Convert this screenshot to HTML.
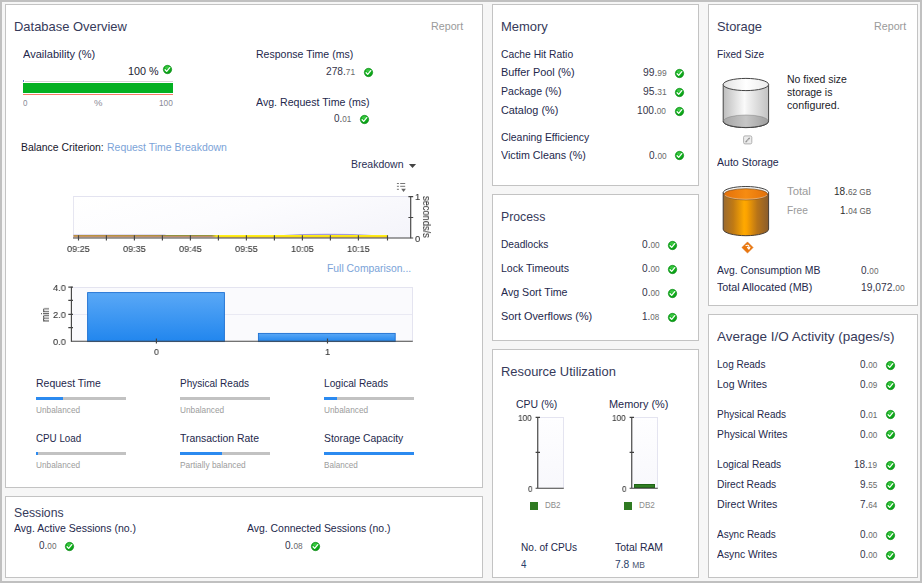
<!DOCTYPE html>
<html lang="en">
<head>
<meta charset="utf-8">
<title>Database Overview</title>
<style>
html,body{margin:0;padding:0;}
body{width:922px;height:583px;overflow:hidden;background:#f6f6f6;font-family:"Liberation Sans",sans-serif;}
#root{position:absolute;left:0;top:0;width:922px;height:583px;overflow:hidden;background:#f6f6f6;}
#frame{position:absolute;left:0;top:0;width:922px;height:583px;box-sizing:border-box;border:2px solid #c0c0c0;border-top-width:2px;pointer-events:none;}
.panel{position:absolute;box-sizing:border-box;background:#fff;border:1px solid #c3c3c3;}
.t{position:absolute;white-space:pre;line-height:1;transform-origin:0 0;}
.ck{position:absolute;}
.g{will-change:transform;-webkit-text-stroke:0.12px #3a3a3a;}
</style>
</head>
<body>
<div id="root">
<svg width="0" height="0" style="position:absolute"><defs><radialGradient id="gck" cx="0.45" cy="0.35" r="0.75"><stop offset="0" stop-color="#1fc22a"/><stop offset="0.6" stop-color="#0ca818"/><stop offset="1" stop-color="#078c12"/></radialGradient></defs></svg>

<div class="panel" id="dbo" style="left:5px;top:4px;width:478px;height:484px"></div>
<div class="panel" id="ses" style="left:5px;top:496px;width:478px;height:82px"></div>
<div class="panel" id="mem" style="left:492px;top:4px;width:207px;height:182px"></div>
<div class="panel" id="prc" style="left:492px;top:194px;width:207px;height:147px"></div>
<div class="panel" id="res" style="left:492px;top:349px;width:207px;height:229px"></div>
<div class="panel" id="sto" style="left:708px;top:4px;width:210px;height:302px"></div>
<div class="panel" id="io" style="left:708px;top:314px;width:210px;height:264px"></div>
<svg class="ck" style="left:162.1px;top:64.2px" width="11" height="11" viewBox="0 0 11 11"><circle cx="5.5" cy="5.5" r="4.2" fill="url(#gck)" stroke="#0c8c16" stroke-width="0.6"/><ellipse cx="5.2" cy="3.5" rx="2.4" ry="1.2" fill="#7fe07f" opacity="0.35"/><path d="M3.1 5.7 L4.7 7.4 L7.8 3.6" fill="none" stroke="#fff" stroke-width="1.25" stroke-linecap="round" stroke-linejoin="round"/></svg>
<div style="position:absolute;left:25px;top:81px;width:148px;height:1px;background:#d6d6d8;"></div>
<div style="position:absolute;left:23px;top:80px;width:1px;height:2px;background:#5b86cc;"></div>
<div style="position:absolute;left:23px;top:83px;width:150px;height:10px;background:#04b022;"></div>
<div style="position:absolute;left:23px;top:94px;width:150px;height:1px;background:#f67a68;"></div>
<svg class="ck" style="left:363.0px;top:67.1px" width="11" height="11" viewBox="0 0 11 11"><circle cx="5.5" cy="5.5" r="4.2" fill="url(#gck)" stroke="#0c8c16" stroke-width="0.6"/><ellipse cx="5.2" cy="3.5" rx="2.4" ry="1.2" fill="#7fe07f" opacity="0.35"/><path d="M3.1 5.7 L4.7 7.4 L7.8 3.6" fill="none" stroke="#fff" stroke-width="1.25" stroke-linecap="round" stroke-linejoin="round"/></svg>
<svg class="ck" style="left:359.2px;top:113.8px" width="11" height="11" viewBox="0 0 11 11"><circle cx="5.5" cy="5.5" r="4.2" fill="url(#gck)" stroke="#0c8c16" stroke-width="0.6"/><ellipse cx="5.2" cy="3.5" rx="2.4" ry="1.2" fill="#7fe07f" opacity="0.35"/><path d="M3.1 5.7 L4.7 7.4 L7.8 3.6" fill="none" stroke="#fff" stroke-width="1.25" stroke-linecap="round" stroke-linejoin="round"/></svg>
<svg style="position:absolute;left:408px;top:163px" width="9" height="6" viewBox="0 0 9 6"><path d="M0.9 0.9 H8.1 L4.5 5 Z" fill="#444"/></svg>
<svg style="position:absolute;left:396px;top:182px" width="11" height="11" viewBox="0 0 11 11"><g fill="#777"><rect x="0.9" y="1" width="2" height="1"/><rect x="4.2" y="1" width="5" height="1"/><rect x="0.9" y="3.8" width="2" height="1"/><rect x="4.2" y="3.8" width="5" height="1"/><rect x="0.9" y="6.8" width="2" height="1"/><path d="M5.2 6.8 H9.9 L7.55 9.9 Z" fill="#666"/></g></svg>
<div style="position:absolute;left:73px;top:196px;width:337px;height:42px;background:linear-gradient(165deg,#ffffff 0%,#fcfcfe 45%,#f4f4fa 100%);border-top:1px solid #e3e3f0;border-left:1px solid #e6e6f1;box-sizing:border-box"></div>
<svg style="position:absolute;left:60px;top:190px" width="380" height="56" viewBox="60 190 380 56">
<defs>
<linearGradient id="gl1" x1="0" x2="1" y1="0" y2="0"><stop offset="0" stop-color="#b89030"/><stop offset="0.27" stop-color="#a88c2c"/><stop offset="0.30" stop-color="#85862a"/><stop offset="0.44" stop-color="#8c8a26"/><stop offset="0.458" stop-color="#fff000"/><stop offset="1" stop-color="#ffee00"/></linearGradient>
<linearGradient id="gl2" x1="0" x2="1" y1="0" y2="0"><stop offset="0" stop-color="#c48a58"/><stop offset="0.44" stop-color="#bc8460"/><stop offset="0.458" stop-color="#ffe600"/><stop offset="1" stop-color="#ffe400"/></linearGradient>
</defs>
<path d="M279 235.2 Q327 232.4 377 235.2 Z" fill="#6a5acd" opacity="0.6"/>
<rect x="73.5" y="234.8" width="92" height="0.6" fill="#7460cc"/>
<rect x="73.5" y="235.1" width="314.2" height="1.1" fill="url(#gl1)"/>
<rect x="73.5" y="236.1" width="314.2" height="1.2" fill="url(#gl2)"/>
<rect x="217.4" y="236.9" width="170.3" height="0.5" fill="#e09a2a"/>
<g stroke="#444" stroke-width="1.15" fill="none">
<path d="M73 238.0 H413.2"/>
<path d="M410.7 196.2 V238.3"/>
<path d="M408.4 196.6 H413.2 M408.4 217.5 H413.2"/>
<path d="M78.5 235.3 V240.6 M106.4 235.3 V240.6 M134.4 235.3 V240.6 M162.4 235.3 V240.6 M190.4 235.3 V240.6 M218.4 235.3 V240.6 M246.4 235.3 V240.6 M274.4 235.3 V240.6 M302.4 235.3 V240.6 M330.4 235.3 V240.6 M358.4 235.3 V240.6 M387.5 235.3 V240.6"/>
</g></svg>
<div style="position:absolute;left:71px;top:287px;width:342px;height:54px;background:#fafafd;border-top:1px solid #e4e4f0;border-right:1px solid #e4e4f0;box-sizing:border-box"></div>
<div style="position:absolute;left:72px;top:314px;width:340px;height:1px;background:#e9e9f3;"></div>
<svg style="position:absolute;left:60px;top:280px" width="360" height="70" viewBox="60 280 360 70">
<defs><linearGradient id="gb" x1="0" x2="0" y1="0" y2="1"><stop offset="0" stop-color="#5aa8f6"/><stop offset="1" stop-color="#2186ee"/></linearGradient></defs>
<rect x="87.6" y="292.6" width="136.8" height="49" fill="url(#gb)" stroke="#1c6fd2" stroke-width="0.9"/>
<rect x="258.4" y="333.4" width="136.8" height="8.2" fill="url(#gb)" stroke="#1c6fd2" stroke-width="0.9"/>
<g stroke="#444" stroke-width="1.15" fill="none">
<path d="M71.4 286.8 V341.6"/>
<path d="M70.9 341.2 H412.8"/>
<path d="M68.3 287.1 H73 M68.3 300.3 H73 M68.3 314.3 H73 M68.3 327.6 H73"/>
<path d="M156.4 338.6 V343.4 M327.5 338.6 V343.4"/>
</g></svg>
<div style="position:absolute;left:36px;top:397px;width:90px;height:3px;background:#c2c2c2;"></div>
<div style="position:absolute;left:36px;top:397px;width:27px;height:3px;background:#2b8af0;"></div>
<div style="position:absolute;left:180px;top:397px;width:90px;height:3px;background:#c2c2c2;"></div>
<div style="position:absolute;left:324px;top:397px;width:90px;height:3px;background:#c2c2c2;"></div>
<div style="position:absolute;left:324px;top:397px;width:13px;height:3px;background:#2b8af0;"></div>
<div style="position:absolute;left:36px;top:452px;width:90px;height:3px;background:#c2c2c2;"></div>
<div style="position:absolute;left:36px;top:452px;width:1.7px;height:3px;background:#2b8af0;"></div>
<div style="position:absolute;left:180px;top:452px;width:90px;height:3px;background:#c2c2c2;"></div>
<div style="position:absolute;left:180px;top:452px;width:41.7px;height:3px;background:#2b8af0;"></div>
<div style="position:absolute;left:324px;top:452px;width:90px;height:3px;background:#c2c2c2;"></div>
<div style="position:absolute;left:324px;top:452px;width:90px;height:3px;background:#2b8af0;"></div>
<svg class="ck" style="left:64.1px;top:541.1px" width="11" height="11" viewBox="0 0 11 11"><circle cx="5.5" cy="5.5" r="4.2" fill="url(#gck)" stroke="#0c8c16" stroke-width="0.6"/><ellipse cx="5.2" cy="3.5" rx="2.4" ry="1.2" fill="#7fe07f" opacity="0.35"/><path d="M3.1 5.7 L4.7 7.4 L7.8 3.6" fill="none" stroke="#fff" stroke-width="1.25" stroke-linecap="round" stroke-linejoin="round"/></svg>
<svg class="ck" style="left:310.0px;top:541.1px" width="11" height="11" viewBox="0 0 11 11"><circle cx="5.5" cy="5.5" r="4.2" fill="url(#gck)" stroke="#0c8c16" stroke-width="0.6"/><ellipse cx="5.2" cy="3.5" rx="2.4" ry="1.2" fill="#7fe07f" opacity="0.35"/><path d="M3.1 5.7 L4.7 7.4 L7.8 3.6" fill="none" stroke="#fff" stroke-width="1.25" stroke-linecap="round" stroke-linejoin="round"/></svg>
<svg class="ck" style="left:674.1px;top:67.9px" width="11" height="11" viewBox="0 0 11 11"><circle cx="5.5" cy="5.5" r="4.2" fill="url(#gck)" stroke="#0c8c16" stroke-width="0.6"/><ellipse cx="5.2" cy="3.5" rx="2.4" ry="1.2" fill="#7fe07f" opacity="0.35"/><path d="M3.1 5.7 L4.7 7.4 L7.8 3.6" fill="none" stroke="#fff" stroke-width="1.25" stroke-linecap="round" stroke-linejoin="round"/></svg>
<svg class="ck" style="left:674.1px;top:86.7px" width="11" height="11" viewBox="0 0 11 11"><circle cx="5.5" cy="5.5" r="4.2" fill="url(#gck)" stroke="#0c8c16" stroke-width="0.6"/><ellipse cx="5.2" cy="3.5" rx="2.4" ry="1.2" fill="#7fe07f" opacity="0.35"/><path d="M3.1 5.7 L4.7 7.4 L7.8 3.6" fill="none" stroke="#fff" stroke-width="1.25" stroke-linecap="round" stroke-linejoin="round"/></svg>
<svg class="ck" style="left:674.1px;top:105.7px" width="11" height="11" viewBox="0 0 11 11"><circle cx="5.5" cy="5.5" r="4.2" fill="url(#gck)" stroke="#0c8c16" stroke-width="0.6"/><ellipse cx="5.2" cy="3.5" rx="2.4" ry="1.2" fill="#7fe07f" opacity="0.35"/><path d="M3.1 5.7 L4.7 7.4 L7.8 3.6" fill="none" stroke="#fff" stroke-width="1.25" stroke-linecap="round" stroke-linejoin="round"/></svg>
<svg class="ck" style="left:674.1px;top:150.3px" width="11" height="11" viewBox="0 0 11 11"><circle cx="5.5" cy="5.5" r="4.2" fill="url(#gck)" stroke="#0c8c16" stroke-width="0.6"/><ellipse cx="5.2" cy="3.5" rx="2.4" ry="1.2" fill="#7fe07f" opacity="0.35"/><path d="M3.1 5.7 L4.7 7.4 L7.8 3.6" fill="none" stroke="#fff" stroke-width="1.25" stroke-linecap="round" stroke-linejoin="round"/></svg>
<svg class="ck" style="left:666.9px;top:239.7px" width="11" height="11" viewBox="0 0 11 11"><circle cx="5.5" cy="5.5" r="4.2" fill="url(#gck)" stroke="#0c8c16" stroke-width="0.6"/><ellipse cx="5.2" cy="3.5" rx="2.4" ry="1.2" fill="#7fe07f" opacity="0.35"/><path d="M3.1 5.7 L4.7 7.4 L7.8 3.6" fill="none" stroke="#fff" stroke-width="1.25" stroke-linecap="round" stroke-linejoin="round"/></svg>
<svg class="ck" style="left:666.9px;top:263.9px" width="11" height="11" viewBox="0 0 11 11"><circle cx="5.5" cy="5.5" r="4.2" fill="url(#gck)" stroke="#0c8c16" stroke-width="0.6"/><ellipse cx="5.2" cy="3.5" rx="2.4" ry="1.2" fill="#7fe07f" opacity="0.35"/><path d="M3.1 5.7 L4.7 7.4 L7.8 3.6" fill="none" stroke="#fff" stroke-width="1.25" stroke-linecap="round" stroke-linejoin="round"/></svg>
<svg class="ck" style="left:666.9px;top:287.5px" width="11" height="11" viewBox="0 0 11 11"><circle cx="5.5" cy="5.5" r="4.2" fill="url(#gck)" stroke="#0c8c16" stroke-width="0.6"/><ellipse cx="5.2" cy="3.5" rx="2.4" ry="1.2" fill="#7fe07f" opacity="0.35"/><path d="M3.1 5.7 L4.7 7.4 L7.8 3.6" fill="none" stroke="#fff" stroke-width="1.25" stroke-linecap="round" stroke-linejoin="round"/></svg>
<svg class="ck" style="left:666.9px;top:311.7px" width="11" height="11" viewBox="0 0 11 11"><circle cx="5.5" cy="5.5" r="4.2" fill="url(#gck)" stroke="#0c8c16" stroke-width="0.6"/><ellipse cx="5.2" cy="3.5" rx="2.4" ry="1.2" fill="#7fe07f" opacity="0.35"/><path d="M3.1 5.7 L4.7 7.4 L7.8 3.6" fill="none" stroke="#fff" stroke-width="1.25" stroke-linecap="round" stroke-linejoin="round"/></svg>
<div style="position:absolute;left:537px;top:417px;width:27px;height:71px;background:linear-gradient(180deg,#fefeff,#f8f8fc);border-top:1px solid #e4e4f0;border-right:1px solid #e4e4f0;box-sizing:border-box"></div>
<svg style="position:absolute;left:533px;top:414px" width="36" height="78" viewBox="533 414 36 78"><g stroke="#404040" stroke-width="1.15" fill="none"><path d="M537.75 417 V488.6 M535.6 488.2 H563.8"/><path d="M535.6 417.4 H540 M535.6 452.4 H540"/></g></svg>
<div style="position:absolute;left:631px;top:417px;width:27px;height:71px;background:linear-gradient(180deg,#fefeff,#f8f8fc);border-top:1px solid #e4e4f0;border-right:1px solid #e4e4f0;box-sizing:border-box"></div>
<div style="position:absolute;left:634.4px;top:484.2px;width:21px;height:4px;background:#2f7d22;border:0.5px solid #1f6416;box-sizing:border-box"></div>
<svg style="position:absolute;left:627px;top:414px" width="36" height="78" viewBox="627 414 36 78"><g stroke="#404040" stroke-width="1.15" fill="none"><path d="M631.75 417 V488.6 M629.6 488.2 H657.8"/><path d="M629.6 417.4 H634 M629.6 452.4 H634"/></g></svg>
<div style="position:absolute;left:530.2px;top:501.9px;width:7.8px;height:7.9px;background:#2f7a22;"></div>
<div style="position:absolute;left:624.2px;top:501.9px;width:7.8px;height:7.9px;background:#2f7a22;"></div>
<svg style="position:absolute;left:720px;top:75px" width="52" height="56" viewBox="720 75 52 56">
<defs>
<linearGradient id="gcb" x1="0" x2="1"><stop offset="0" stop-color="#bdbdbd"/><stop offset="0.47" stop-color="#fafafa"/><stop offset="0.53" stop-color="#f2f2f2"/><stop offset="1" stop-color="#c2c2c2"/></linearGradient>
<linearGradient id="gct" x1="0" x2="1"><stop offset="0" stop-color="#e2e2e2"/><stop offset="0.5" stop-color="#ffffff"/><stop offset="1" stop-color="#ebebeb"/></linearGradient>
<linearGradient id="gcf" x1="0" x2="1"><stop offset="0" stop-color="#a6a6a6"/><stop offset="0.5" stop-color="#c6c6c6"/><stop offset="1" stop-color="#9e9e9e"/></linearGradient>
</defs>
<path d="M723.2 84.4 V121.2 A22.7 6.4 0 0 0 768.6 121.2 V84.4 Z" fill="url(#gcb)" stroke="#444" stroke-width="1"/>
<ellipse cx="745.9" cy="121.2" rx="22.3" ry="6.2" fill="url(#gcf)" stroke="#7e7e7e" stroke-width="0.5"/>
<path d="M723.2 121.2 A22.7 6.4 0 0 0 768.6 121.2" fill="none" stroke="#444" stroke-width="1"/>
<ellipse cx="745.9" cy="84.5" rx="22.7" ry="6.1" fill="url(#gct)" stroke="#444" stroke-width="1"/>
</svg>
<svg style="position:absolute;left:743px;top:135px" width="10" height="10" viewBox="0 0 10 10"><rect x="0.6" y="0.9" width="8.2" height="8" rx="1.4" fill="#ececec" stroke="#a9a9a9" stroke-width="0.9"/><path d="M3 6.8 L6.3 3.3" stroke="#8c8c8c" stroke-width="1.3" fill="none" stroke-linecap="round"/><path d="M3.6 6.2 L5.7 4" stroke="#f4f4f4" stroke-width="0.5" fill="none"/></svg>
<svg style="position:absolute;left:720px;top:183px" width="52" height="56" viewBox="720 183 52 56">
<defs>
<linearGradient id="gob" x1="0" x2="1"><stop offset="0" stop-color="#9a6a30"/><stop offset="0.22" stop-color="#c07a14"/><stop offset="0.46" stop-color="#ffa900"/><stop offset="0.52" stop-color="#fba200"/><stop offset="0.75" stop-color="#b87418"/><stop offset="1" stop-color="#8a5c2c"/></linearGradient>
<linearGradient id="got" x1="0" x2="1"><stop offset="0" stop-color="#e4700a"/><stop offset="0.5" stop-color="#f68c12"/><stop offset="1" stop-color="#e2700a"/></linearGradient>
</defs>
<path d="M723.2 192.6 V229.2 A22.7 6.5 0 0 0 768.6 229.2 V192.6 Z" fill="url(#gob)" stroke="#463c34" stroke-width="1"/>
<ellipse cx="745.9" cy="192.7" rx="22.7" ry="6.2" fill="#f6f6f6" stroke="#444" stroke-width="1"/>
<ellipse cx="745.9" cy="194.3" rx="21.7" ry="5.6" fill="url(#got)" stroke="#7a4e1c" stroke-width="0.7"/>
<path d="M724.6 195.2 A22 5.4 0 0 0 767.2 195.2" fill="none" stroke="#e8d8c0" stroke-width="0.7" opacity="0.8"/>
</svg>
<svg style="position:absolute;left:741px;top:241px" width="13" height="13" viewBox="0 0 13 13"><path d="M6.5 0.9 L12.1 6.5 L6.5 12.1 L0.9 6.5 Z" fill="#ea760c" stroke="#d86406" stroke-width="0.5"/><path d="M5 4.6 Q7.8 3.4 7.9 5.8 L7.9 7.2 M6.4 6.4 L7.9 8.2 L9 6.3" fill="none" stroke="#fff" stroke-width="1.05" stroke-linecap="round" stroke-linejoin="round"/></svg>
<svg class="ck" style="left:885.1px;top:359.6px" width="11" height="11" viewBox="0 0 11 11"><circle cx="5.5" cy="5.5" r="4.2" fill="url(#gck)" stroke="#0c8c16" stroke-width="0.6"/><ellipse cx="5.2" cy="3.5" rx="2.4" ry="1.2" fill="#7fe07f" opacity="0.35"/><path d="M3.1 5.7 L4.7 7.4 L7.8 3.6" fill="none" stroke="#fff" stroke-width="1.25" stroke-linecap="round" stroke-linejoin="round"/></svg>
<svg class="ck" style="left:885.1px;top:379.5px" width="11" height="11" viewBox="0 0 11 11"><circle cx="5.5" cy="5.5" r="4.2" fill="url(#gck)" stroke="#0c8c16" stroke-width="0.6"/><ellipse cx="5.2" cy="3.5" rx="2.4" ry="1.2" fill="#7fe07f" opacity="0.35"/><path d="M3.1 5.7 L4.7 7.4 L7.8 3.6" fill="none" stroke="#fff" stroke-width="1.25" stroke-linecap="round" stroke-linejoin="round"/></svg>
<svg class="ck" style="left:885.1px;top:409.4px" width="11" height="11" viewBox="0 0 11 11"><circle cx="5.5" cy="5.5" r="4.2" fill="url(#gck)" stroke="#0c8c16" stroke-width="0.6"/><ellipse cx="5.2" cy="3.5" rx="2.4" ry="1.2" fill="#7fe07f" opacity="0.35"/><path d="M3.1 5.7 L4.7 7.4 L7.8 3.6" fill="none" stroke="#fff" stroke-width="1.25" stroke-linecap="round" stroke-linejoin="round"/></svg>
<svg class="ck" style="left:885.1px;top:429.4px" width="11" height="11" viewBox="0 0 11 11"><circle cx="5.5" cy="5.5" r="4.2" fill="url(#gck)" stroke="#0c8c16" stroke-width="0.6"/><ellipse cx="5.2" cy="3.5" rx="2.4" ry="1.2" fill="#7fe07f" opacity="0.35"/><path d="M3.1 5.7 L4.7 7.4 L7.8 3.6" fill="none" stroke="#fff" stroke-width="1.25" stroke-linecap="round" stroke-linejoin="round"/></svg>
<svg class="ck" style="left:885.1px;top:459.7px" width="11" height="11" viewBox="0 0 11 11"><circle cx="5.5" cy="5.5" r="4.2" fill="url(#gck)" stroke="#0c8c16" stroke-width="0.6"/><ellipse cx="5.2" cy="3.5" rx="2.4" ry="1.2" fill="#7fe07f" opacity="0.35"/><path d="M3.1 5.7 L4.7 7.4 L7.8 3.6" fill="none" stroke="#fff" stroke-width="1.25" stroke-linecap="round" stroke-linejoin="round"/></svg>
<svg class="ck" style="left:885.1px;top:479.7px" width="11" height="11" viewBox="0 0 11 11"><circle cx="5.5" cy="5.5" r="4.2" fill="url(#gck)" stroke="#0c8c16" stroke-width="0.6"/><ellipse cx="5.2" cy="3.5" rx="2.4" ry="1.2" fill="#7fe07f" opacity="0.35"/><path d="M3.1 5.7 L4.7 7.4 L7.8 3.6" fill="none" stroke="#fff" stroke-width="1.25" stroke-linecap="round" stroke-linejoin="round"/></svg>
<svg class="ck" style="left:885.1px;top:499.7px" width="11" height="11" viewBox="0 0 11 11"><circle cx="5.5" cy="5.5" r="4.2" fill="url(#gck)" stroke="#0c8c16" stroke-width="0.6"/><ellipse cx="5.2" cy="3.5" rx="2.4" ry="1.2" fill="#7fe07f" opacity="0.35"/><path d="M3.1 5.7 L4.7 7.4 L7.8 3.6" fill="none" stroke="#fff" stroke-width="1.25" stroke-linecap="round" stroke-linejoin="round"/></svg>
<svg class="ck" style="left:885.1px;top:529.7px" width="11" height="11" viewBox="0 0 11 11"><circle cx="5.5" cy="5.5" r="4.2" fill="url(#gck)" stroke="#0c8c16" stroke-width="0.6"/><ellipse cx="5.2" cy="3.5" rx="2.4" ry="1.2" fill="#7fe07f" opacity="0.35"/><path d="M3.1 5.7 L4.7 7.4 L7.8 3.6" fill="none" stroke="#fff" stroke-width="1.25" stroke-linecap="round" stroke-linejoin="round"/></svg>
<svg class="ck" style="left:885.1px;top:549.7px" width="11" height="11" viewBox="0 0 11 11"><circle cx="5.5" cy="5.5" r="4.2" fill="url(#gck)" stroke="#0c8c16" stroke-width="0.6"/><ellipse cx="5.2" cy="3.5" rx="2.4" ry="1.2" fill="#7fe07f" opacity="0.35"/><path d="M3.1 5.7 L4.7 7.4 L7.8 3.6" fill="none" stroke="#fff" stroke-width="1.25" stroke-linecap="round" stroke-linejoin="round"/></svg>
<span class="t" style="left:14.2px;top:20px;font-size:13px;color:#363a5a;transform:scaleX(0.9953)">Database Overview</span>
<span class="t" style="left:431.2px;top:21px;font-size:11px;color:#9a9a9a;transform:scaleX(0.9730)">Report</span>
<span class="t" style="left:23.0px;top:49px;font-size:11px;color:#24284c;transform:scaleX(1.0042)">Availability (%)</span>
<span class="t" style="left:128.4px;top:66px;font-size:11px;color:#222230;transform:scaleX(0.9820)">100 %</span>
<span class="t" style="left:23.2px;top:99px;font-size:9px;color:#8a8a96;transform:scaleX(0.8892)">0</span>
<span class="t" style="left:93.7px;top:99px;font-size:9px;color:#8a8a96;transform:scaleX(1.0554)">%</span>
<span class="t" style="left:159.2px;top:99px;font-size:9px;color:#8a8a96;transform:scaleX(0.9221)">100</span>
<span class="t" style="left:256.2px;top:49px;font-size:11px;color:#24284c;transform:scaleX(0.9582)">Response Time (ms)</span>
<span class="t" style="left:326.0px;top:66px;font-size:11px;color:#34344a;transform:scaleX(0.9237)"><span style="font-size:11px;color:#34344a">278.</span><span style="font-size:9px;color:#6a6a6a">71</span></span>
<span class="t" style="left:256.2px;top:97px;font-size:11px;color:#24284c;transform:scaleX(0.9648)">Avg. Request Time (ms)</span>
<span class="t" style="left:333.5px;top:113px;font-size:11px;color:#34344a;transform:scaleX(0.9030)"><span style="font-size:11px;color:#34344a">0.</span><span style="font-size:9px;color:#6a6a6a">01</span></span>
<span class="t" style="left:21.4px;top:142px;font-size:11px;color:#16162c;transform:scaleX(0.9463)">Balance Criterion:</span>
<span class="t" style="left:107.3px;top:142px;font-size:11px;color:#7ba3d8;transform:scaleX(0.9523)">Request Time Breakdown</span>
<span class="t" style="left:351.2px;top:159px;font-size:11px;color:#2a2f55;transform:scaleX(0.9545)">Breakdown</span>
<span class="t g" style="left:66.7px;top:244px;font-size:9.5px;color:#3a3a3a;transform:scaleX(0.9579)">09:25</span>
<span class="t g" style="left:122.7px;top:244px;font-size:9.5px;color:#3a3a3a;transform:scaleX(0.9579)">09:35</span>
<span class="t g" style="left:178.7px;top:244px;font-size:9.5px;color:#3a3a3a;transform:scaleX(0.9579)">09:45</span>
<span class="t g" style="left:234.7px;top:244px;font-size:9.5px;color:#3a3a3a;transform:scaleX(0.9579)">09:55</span>
<span class="t g" style="left:291.0px;top:244px;font-size:9.5px;color:#3a3a3a;transform:scaleX(0.9579)">10:05</span>
<span class="t g" style="left:346.7px;top:244px;font-size:9.5px;color:#3a3a3a;transform:scaleX(0.9579)">10:15</span>
<span class="t g" style="left:414.6px;top:192px;font-size:9.5px;color:#3a3a3a;transform:scaleX(1.0000)">1</span>
<span class="t g" style="left:414.5px;top:234px;font-size:9.5px;color:#3a3a3a;transform:scaleX(0.9779)">0</span>
<span class="t g" style="left:430.8px;top:196.0px;font-size:10px;color:#3a3a3a;transform:rotate(90deg) scaleX(0.9282)">seconds/s</span>
<span class="t" style="left:327.3px;top:263px;font-size:11px;color:#7ba3d8;transform:scaleX(0.9437)">Full Comparison...</span>
<span class="t g" style="left:52.9px;top:283px;font-size:9.5px;color:#3a3a3a;transform:scaleX(0.9668)">4.0</span>
<span class="t g" style="left:52.9px;top:310px;font-size:9.5px;color:#3a3a3a;transform:scaleX(0.9668)">2.0</span>
<span class="t g" style="left:52.9px;top:337px;font-size:9.5px;color:#3a3a3a;transform:scaleX(0.9668)">0.0</span>
<span class="t g" style="left:40.6px;top:321.9px;font-size:10px;color:#3a3a3a;transform:rotate(-90deg) scaleX(0.8868)">min</span>
<span class="t g" style="left:153.7px;top:347px;font-size:9.5px;color:#3a3a3a;transform:scaleX(0.9024)">0</span>
<span class="t g" style="left:324.9px;top:347px;font-size:9.5px;color:#3a3a3a;transform:scaleX(1.0000)">1</span>
<span class="t" style="left:36.2px;top:378px;font-size:11px;color:#24284c;transform:scaleX(0.9538)">Request Time</span>
<span class="t" style="left:36.2px;top:405px;font-size:9.5px;color:#9c9c9c;transform:scaleX(0.8691)">Unbalanced</span>
<span class="t" style="left:180.2px;top:378px;font-size:11px;color:#24284c;transform:scaleX(0.9105)">Physical Reads</span>
<span class="t" style="left:180.2px;top:405px;font-size:9.5px;color:#9c9c9c;transform:scaleX(0.8691)">Unbalanced</span>
<span class="t" style="left:324.2px;top:378px;font-size:11px;color:#24284c;transform:scaleX(0.9200)">Logical Reads</span>
<span class="t" style="left:324.2px;top:405px;font-size:9.5px;color:#9c9c9c;transform:scaleX(0.8691)">Unbalanced</span>
<span class="t" style="left:36.2px;top:433px;font-size:11px;color:#24284c;transform:scaleX(0.8912)">CPU Load</span>
<span class="t" style="left:36.2px;top:460px;font-size:9.5px;color:#9c9c9c;transform:scaleX(0.8691)">Unbalanced</span>
<span class="t" style="left:180.2px;top:433px;font-size:11px;color:#24284c;transform:scaleX(0.9482)">Transaction Rate</span>
<span class="t" style="left:180.2px;top:460px;font-size:9.5px;color:#9c9c9c;transform:scaleX(0.8757)">Partially balanced</span>
<span class="t" style="left:324.2px;top:433px;font-size:11px;color:#24284c;transform:scaleX(0.9390)">Storage Capacity</span>
<span class="t" style="left:324.2px;top:460px;font-size:9.5px;color:#9c9c9c;transform:scaleX(0.8550)">Balanced</span>
<span class="t" style="left:14.2px;top:506px;font-size:13px;color:#363a5a;transform:scaleX(0.9388)">Sessions</span>
<span class="t" style="left:14.3px;top:523px;font-size:11px;color:#24284c;transform:scaleX(0.9565)">Avg. Active Sessions (no.)</span>
<span class="t" style="left:38.5px;top:540px;font-size:11px;color:#34344a;transform:scaleX(0.9082)"><span style="font-size:11px;color:#34344a">0.</span><span style="font-size:9px;color:#6a6a6a">00</span></span>
<span class="t" style="left:247.1px;top:523px;font-size:11px;color:#24284c;transform:scaleX(0.9478)">Avg. Connected Sessions (no.)</span>
<span class="t" style="left:284.6px;top:540px;font-size:11px;color:#34344a;transform:scaleX(0.9186)"><span style="font-size:11px;color:#34344a">0.</span><span style="font-size:9px;color:#6a6a6a">08</span></span>
<span class="t" style="left:501.1px;top:20px;font-size:13px;color:#363a5a;transform:scaleX(0.9972)">Memory</span>
<span class="t" style="left:501.2px;top:49px;font-size:11px;color:#24284c;transform:scaleX(0.9363)">Cache Hit Ratio</span>
<span class="t" style="left:501.2px;top:67px;font-size:11px;color:#24284c;transform:scaleX(0.9899)">Buffer Pool (%)</span>
<span class="t" style="left:642.6px;top:67px;font-size:11px;color:#34344a;transform:scaleX(0.9379)"><span style="font-size:11px;color:#34344a">99.</span><span style="font-size:9px;color:#6a6a6a">99</span></span>
<span class="t" style="left:501.2px;top:86px;font-size:11px;color:#24284c;transform:scaleX(0.9596)">Package (%)</span>
<span class="t" style="left:642.6px;top:86px;font-size:11px;color:#34344a;transform:scaleX(0.9379)"><span style="font-size:11px;color:#34344a">95.</span><span style="font-size:9px;color:#6a6a6a">31</span></span>
<span class="t" style="left:501.2px;top:105px;font-size:11px;color:#24284c;transform:scaleX(0.9856)">Catalog (%)</span>
<span class="t" style="left:637.4px;top:105px;font-size:11px;color:#34344a;transform:scaleX(0.9206)"><span style="font-size:11px;color:#34344a">100.</span><span style="font-size:9px;color:#6a6a6a">00</span></span>
<span class="t" style="left:501.2px;top:150px;font-size:11px;color:#24284c;transform:scaleX(0.9716)">Victim Cleans (%)</span>
<span class="t" style="left:648.7px;top:150px;font-size:11px;color:#34344a;transform:scaleX(0.9186)"><span style="font-size:11px;color:#34344a">0.</span><span style="font-size:9px;color:#6a6a6a">00</span></span>
<span class="t" style="left:501.2px;top:132px;font-size:11px;color:#24284c;transform:scaleX(0.9452)">Cleaning Efficiency</span>
<span class="t" style="left:501.0px;top:210px;font-size:13px;color:#363a5a;transform:scaleX(0.9436)">Process</span>
<span class="t" style="left:501.2px;top:239px;font-size:11px;color:#24284c;transform:scaleX(0.9237)">Deadlocks</span>
<span class="t" style="left:641.6px;top:239px;font-size:11px;color:#34344a;transform:scaleX(0.9238)"><span style="font-size:11px;color:#34344a">0.</span><span style="font-size:9px;color:#6a6a6a">00</span></span>
<span class="t" style="left:501.2px;top:263px;font-size:11px;color:#24284c;transform:scaleX(0.9594)">Lock Timeouts</span>
<span class="t" style="left:641.6px;top:263px;font-size:11px;color:#34344a;transform:scaleX(0.9238)"><span style="font-size:11px;color:#34344a">0.</span><span style="font-size:9px;color:#6a6a6a">00</span></span>
<span class="t" style="left:501.2px;top:287px;font-size:11px;color:#24284c;transform:scaleX(0.9659)">Avg Sort Time</span>
<span class="t" style="left:641.6px;top:287px;font-size:11px;color:#34344a;transform:scaleX(0.9238)"><span style="font-size:11px;color:#34344a">0.</span><span style="font-size:9px;color:#6a6a6a">00</span></span>
<span class="t" style="left:501.2px;top:311px;font-size:11px;color:#24284c;transform:scaleX(0.9885)">Sort Overflows (%)</span>
<span class="t" style="left:642.1px;top:311px;font-size:11px;color:#34344a;transform:scaleX(0.8978)"><span style="font-size:11px;color:#34344a">1.</span><span style="font-size:9px;color:#6a6a6a">08</span></span>
<span class="t" style="left:501.1px;top:365px;font-size:13px;color:#363a5a;transform:scaleX(0.9932)">Resource Utilization</span>
<span class="t" style="left:515.5px;top:399px;font-size:11px;color:#24284c;transform:scaleX(0.9504)">CPU (%)</span>
<span class="t" style="left:609.4px;top:399px;font-size:11px;color:#24284c;transform:scaleX(0.9908)">Memory (%)</span>
<span class="t g" style="left:518.4px;top:413px;font-size:9.5px;color:#3a3a3a;transform:scaleX(0.8689)">100</span>
<span class="t g" style="left:527.7px;top:484px;font-size:9.5px;color:#3a3a3a;transform:scaleX(0.8458)">0</span>
<span class="t g" style="left:612.3px;top:413px;font-size:9.5px;color:#3a3a3a;transform:scaleX(0.8689)">100</span>
<span class="t g" style="left:621.6px;top:484px;font-size:9.5px;color:#3a3a3a;transform:scaleX(0.8458)">0</span>
<span class="t" style="left:545.2px;top:500px;font-size:9.5px;color:#8c8c8c;transform:scaleX(0.8429)">DB2</span>
<span class="t" style="left:639.1px;top:500px;font-size:9.5px;color:#8c8c8c;transform:scaleX(0.8591)">DB2</span>
<span class="t" style="left:521.2px;top:542px;font-size:11px;color:#24284c;transform:scaleX(0.9166)">No. of CPUs</span>
<span class="t" style="left:521.2px;top:559px;font-size:11px;color:#2a3f6a;transform:scaleX(0.8882)">4</span>
<span class="t" style="left:615.3px;top:542px;font-size:11px;color:#24284c;transform:scaleX(0.9466)">Total RAM</span>
<span class="t" style="left:615.3px;top:559px;font-size:11px;color:#2a3f6a;transform:scaleX(0.9366)"><span style="font-size:11px;color:#2a3f6a">7.8 </span><span style="font-size:9px;color:#4a5570">MB</span></span>
<span class="t" style="left:717.0px;top:20px;font-size:13px;color:#363a5a;transform:scaleX(0.9884)">Storage</span>
<span class="t" style="left:873.9px;top:21px;font-size:11px;color:#9a9a9a;transform:scaleX(0.9730)">Report</span>
<span class="t" style="left:717.1px;top:49px;font-size:11px;color:#24284c;transform:scaleX(0.9198)">Fixed Size</span>
<span class="t" style="left:787.1px;top:74px;font-size:11px;color:#222228;transform:scaleX(0.9501)">No fixed size</span>
<span class="t" style="left:787.1px;top:87px;font-size:11px;color:#222228;transform:scaleX(0.9526)">storage is</span>
<span class="t" style="left:787.1px;top:100px;font-size:11px;color:#222228;transform:scaleX(0.9670)">configured.</span>
<span class="t" style="left:717.1px;top:157px;font-size:11px;color:#24284c;transform:scaleX(0.9598)">Auto Storage</span>
<span class="t" style="left:787.1px;top:186px;font-size:11px;color:#9a9a9a;transform:scaleX(1.0254)">Total</span>
<span class="t" style="left:833.6px;top:186px;font-size:11px;color:#2c2c2c;transform:scaleX(0.9125)"><span style="font-size:11px;color:#2c2c2c">18.</span><span style="font-size:9px;color:#5c5c5c">62 GB</span></span>
<span class="t" style="left:787.1px;top:205px;font-size:11px;color:#9a9a9a;transform:scaleX(0.9255)">Free</span>
<span class="t" style="left:839.8px;top:205px;font-size:11px;color:#2c2c2c;transform:scaleX(0.8944)"><span style="font-size:11px;color:#2c2c2c">1.</span><span style="font-size:9px;color:#5c5c5c">04 GB</span></span>
<span class="t" style="left:717.1px;top:265px;font-size:11px;color:#24284c;transform:scaleX(0.9459)">Avg. Consumption MB</span>
<span class="t" style="left:860.6px;top:265px;font-size:11px;color:#34344a;transform:scaleX(0.9082)"><span style="font-size:11px;color:#34344a">0.</span><span style="font-size:9px;color:#6a6a6a">00</span></span>
<span class="t" style="left:717.1px;top:282px;font-size:11px;color:#24284c;transform:scaleX(0.9746)">Total Allocated (MB)</span>
<span class="t" style="left:860.6px;top:282px;font-size:11px;color:#34344a;transform:scaleX(0.9341)"><span style="font-size:11px;color:#34344a">19,072.</span><span style="font-size:9px;color:#6a6a6a">00</span></span>
<span class="t" style="left:717.2px;top:330px;font-size:13px;color:#363a5a;transform:scaleX(1.0387)">Average I/O Activity (pages/s)</span>
<span class="t" style="left:717.3px;top:359px;font-size:11px;color:#24284c;transform:scaleX(0.9102)">Log Reads</span>
<span class="t" style="left:859.7px;top:359px;font-size:11px;color:#34344a;transform:scaleX(0.9030)"><span style="font-size:11px;color:#34344a">0.</span><span style="font-size:9px;color:#6a6a6a">00</span></span>
<span class="t" style="left:717.3px;top:379px;font-size:11px;color:#24284c;transform:scaleX(0.9554)">Log Writes</span>
<span class="t" style="left:859.7px;top:379px;font-size:11px;color:#34344a;transform:scaleX(0.9030)"><span style="font-size:11px;color:#34344a">0.</span><span style="font-size:9px;color:#6a6a6a">09</span></span>
<span class="t" style="left:717.3px;top:409px;font-size:11px;color:#24284c;transform:scaleX(0.9105)">Physical Reads</span>
<span class="t" style="left:859.7px;top:409px;font-size:11px;color:#34344a;transform:scaleX(0.9030)"><span style="font-size:11px;color:#34344a">0.</span><span style="font-size:9px;color:#6a6a6a">01</span></span>
<span class="t" style="left:717.3px;top:429px;font-size:11px;color:#24284c;transform:scaleX(0.9394)">Physical Writes</span>
<span class="t" style="left:859.7px;top:429px;font-size:11px;color:#34344a;transform:scaleX(0.9030)"><span style="font-size:11px;color:#34344a">0.</span><span style="font-size:9px;color:#6a6a6a">00</span></span>
<span class="t" style="left:717.3px;top:459px;font-size:11px;color:#24284c;transform:scaleX(0.9200)">Logical Reads</span>
<span class="t" style="left:854.1px;top:459px;font-size:11px;color:#34344a;transform:scaleX(0.9063)"><span style="font-size:11px;color:#34344a">18.</span><span style="font-size:9px;color:#6a6a6a">19</span></span>
<span class="t" style="left:717.3px;top:479px;font-size:11px;color:#24284c;transform:scaleX(0.9318)">Direct Reads</span>
<span class="t" style="left:859.7px;top:479px;font-size:11px;color:#34344a;transform:scaleX(0.9030)"><span style="font-size:11px;color:#34344a">9.</span><span style="font-size:9px;color:#6a6a6a">55</span></span>
<span class="t" style="left:717.3px;top:499px;font-size:11px;color:#24284c;transform:scaleX(0.9616)">Direct Writes</span>
<span class="t" style="left:859.7px;top:499px;font-size:11px;color:#34344a;transform:scaleX(0.9030)"><span style="font-size:11px;color:#34344a">7.</span><span style="font-size:9px;color:#6a6a6a">64</span></span>
<span class="t" style="left:717.3px;top:529px;font-size:11px;color:#24284c;transform:scaleX(0.9063)">Async Reads</span>
<span class="t" style="left:859.7px;top:529px;font-size:11px;color:#34344a;transform:scaleX(0.9030)"><span style="font-size:11px;color:#34344a">0.</span><span style="font-size:9px;color:#6a6a6a">00</span></span>
<span class="t" style="left:717.3px;top:549px;font-size:11px;color:#24284c;transform:scaleX(0.9399)">Async Writes</span>
<span class="t" style="left:859.7px;top:549px;font-size:11px;color:#34344a;transform:scaleX(0.9030)"><span style="font-size:11px;color:#34344a">0.</span><span style="font-size:9px;color:#6a6a6a">00</span></span>
<div id="frame"></div>
</div>
</body>
</html>
